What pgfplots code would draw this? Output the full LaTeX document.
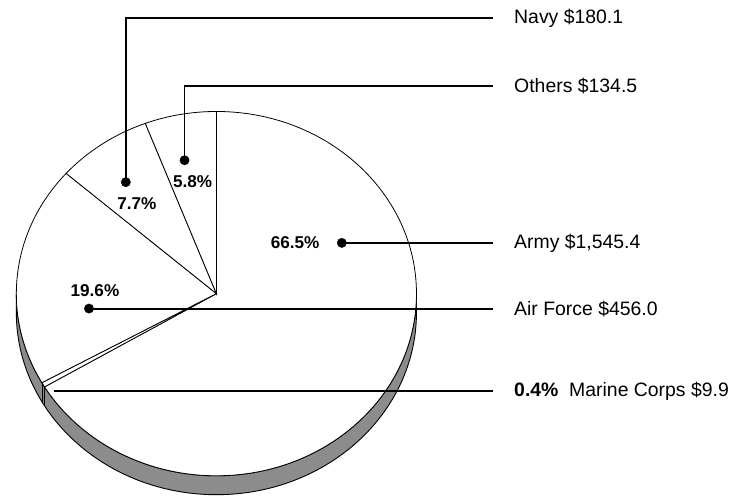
\documentclass[border=0pt]{standalone}
\usepackage{pgfplots}
\pgfplotsset{compat=1.18}
\usepackage{pgfplotstable}
\usepackage{fontspec}
\setmainfont{Liberation Sans}

\pgfplotstableread{
name value pct
Army 1545.4 66.5
Marine 9.9 0.4
AirForce 456.0 19.6
Navy 180.1 7.7
Others 134.5 5.8
}\pietable

\begin{document}
\begin{tikzpicture}
\def\cx{214}\def\cy{203}\def\rx{201}\def\ry{183}\def\dep{19}
% read values and compute cumulative angles (clockwise from 12 o'clock)
\foreach \i in {0,...,4}{%
  \pgfplotstablegetelem{\i}{value}\of\pietable
  \expandafter\xdef\csname pv\i\endcsname{\pgfplotsretval}}
\pgfmathsetmacro\tot{\csname pv0\endcsname+\csname pv1\endcsname+\csname pv2\endcsname+\csname pv3\endcsname+\csname pv4\endcsname}
\pgfmathsetmacro\aA{90}
\pgfmathsetmacro\aB{\aA-360*(\csname pv0\endcsname/\tot)}
\pgfmathsetmacro\aC{\aB-360*(\csname pv1\endcsname/\tot)}
\pgfmathsetmacro\aD{\aC-360*(\csname pv2\endcsname/\tot)}
\pgfmathsetmacro\aE{\aD-360*(\csname pv3\endcsname/\tot)}
\pgfmathsetmacro\aF{-270}
\begin{axis}[x=1pt,y=1pt,xmin=0,xmax=732,ymin=0,ymax=498,
  hide axis,clip=false,scale only axis]
\path (0,0) (732,498);
% side of the pie
\filldraw[fill=black!45,draw=black,line width=0.9pt]
  (\cx,\cy) ++(180:\rx pt and \ry pt)
  arc[start angle=180,end angle=360,x radius=\rx pt,y radius=\ry pt]
  -- ++(0,-\dep pt)
  arc[start angle=0,end angle=-180,x radius=\rx pt,y radius=\ry pt]
  -- cycle;
\draw[line width=0.6pt] (\cx,\cy) ++(\aB:\rx pt and \ry pt) -- ++(0,-\dep pt);
\draw[line width=0.6pt] (\cx,\cy) ++(\aC:\rx pt and \ry pt) -- ++(0,-\dep pt);
% top face wedges
\filldraw[fill=white,draw=black,line width=0.8pt] (\cx,\cy) -- ++(\aA:\rx pt and \ry pt)
  arc[start angle=\aA,end angle=\aB,x radius=\rx pt,y radius=\ry pt] -- cycle;
\filldraw[fill=white,draw=black,line width=0.8pt] (\cx,\cy) -- ++(\aB:\rx pt and \ry pt)
  arc[start angle=\aB,end angle=\aC,x radius=\rx pt,y radius=\ry pt] -- cycle;
\filldraw[fill=white,draw=black,line width=0.8pt] (\cx,\cy) -- ++(\aC:\rx pt and \ry pt)
  arc[start angle=\aC,end angle=\aD,x radius=\rx pt,y radius=\ry pt] -- cycle;
\filldraw[fill=white,draw=black,line width=0.8pt] (\cx,\cy) -- ++(\aD:\rx pt and \ry pt)
  arc[start angle=\aD,end angle=\aE,x radius=\rx pt,y radius=\ry pt] -- cycle;
\filldraw[fill=white,draw=black,line width=0.8pt] (\cx,\cy) -- ++(\aE:\rx pt and \ry pt)
  arc[start angle=\aE,end angle=\aF,x radius=\rx pt,y radius=\ry pt] -- cycle;
% leader lines
\draw[line width=1.9pt] (123,315) |- (492,480);
\draw[line width=1.9pt] (182,337) |- (492,412);
\draw[line width=1.9pt] (340,254) -- (492,254);
\draw[line width=1.9pt] (86,188) -- (492,188);
\draw[line width=1.5pt] (51,105) -- (492,105);
\addplot[only marks,mark=*,mark size=4.7pt,black] coordinates {(123,315) (182,337) (340,254) (86,188)};
% percentage labels
\begin{scope}[every node/.style={inner sep=0pt,font=\bfseries\fontsize{17.2}{20}\selectfont}]
\node at (293,254) {66.5\%};
\node at (92,206) {19.6\%};
\node at (134,293) {7.7\%};
\node at (190,316) {5.8\%};
\end{scope}
% category labels
\begin{scope}[every node/.style={anchor=west,inner sep=0pt,font=\fontsize{19.5}{22}\selectfont}]
\node at (513,480) {Navy \$180.1};
\node at (513,412) {Others \$134.5};
\node at (513,254) {Army \$1,545.4};
\node at (513,188) {Air Force \$456.0};
\node at (513,105) {\textbf{0.4\%}\ \ Marine Corps \$9.9};
\end{scope}
\end{axis}
\end{tikzpicture}
\end{document}
